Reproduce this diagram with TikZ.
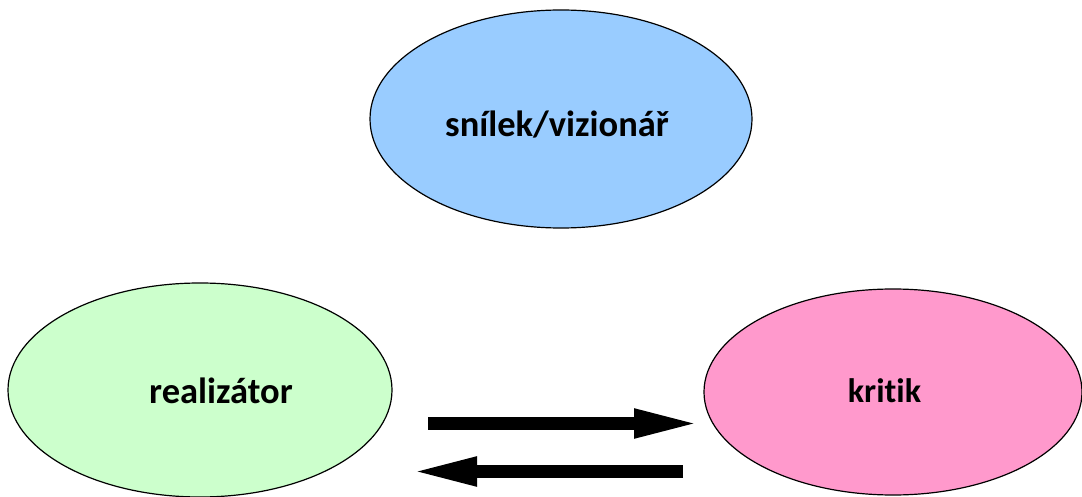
\documentclass[tikz,border=0pt]{standalone}
\usepackage{fontspec}
\setmainfont{Carlito}[Ligatures=NoCommon]
\usetikzlibrary{shapes.geometric,arrows.meta}
\definecolor{skyblue}{HTML}{99CCFF}
\definecolor{palegreen}{HTML}{CCFFCC}
\definecolor{pinkish}{HTML}{FF99CC}
\tikzset{
  role/.style={ellipse, draw=black, line width=1.2pt, inner sep=0pt},
  rolelabel/.style={font=\fontsize{36.5}{40}\selectfont\bfseries, text=black},
  bigarrow/.style={line width=13pt, -{Triangle[length=68pt,width=26pt]}, shorten >=0pt}
}
\begin{document}
\begin{tikzpicture}[x=1pt,y=-1pt]
\useasboundingbox (0,0) rectangle (1082,497);
\node[role, fill=skyblue, minimum width=382pt, minimum height=218pt] (vis) at (561,119) {};
\node[rolelabel] (vislabel) at (557,125) {snílek/vizionář};
\node[role, fill=palegreen, minimum width=384pt, minimum height=214pt] (real) at (200,390) {};
\node[rolelabel] (reallabel) at (221,391) {realizátor};
\node[role, fill=pinkish, minimum width=378pt, minimum height=206pt] (krit) at (893,392) {};
\node[rolelabel, font=\fontsize{34}{38}\selectfont\bfseries] (kritlabel) at (884.5,391) {kritik};
\coordinate (a1s) at (428,423.5);
\coordinate (a1e) at (702,423.5);
\coordinate (a2s) at (683,471.5);
\coordinate (a2e) at (409,471.5);
\draw[bigarrow] (a1s) -- (a1e);
\draw[bigarrow] (a2s) -- (a2e);
\end{tikzpicture}
\end{document}
